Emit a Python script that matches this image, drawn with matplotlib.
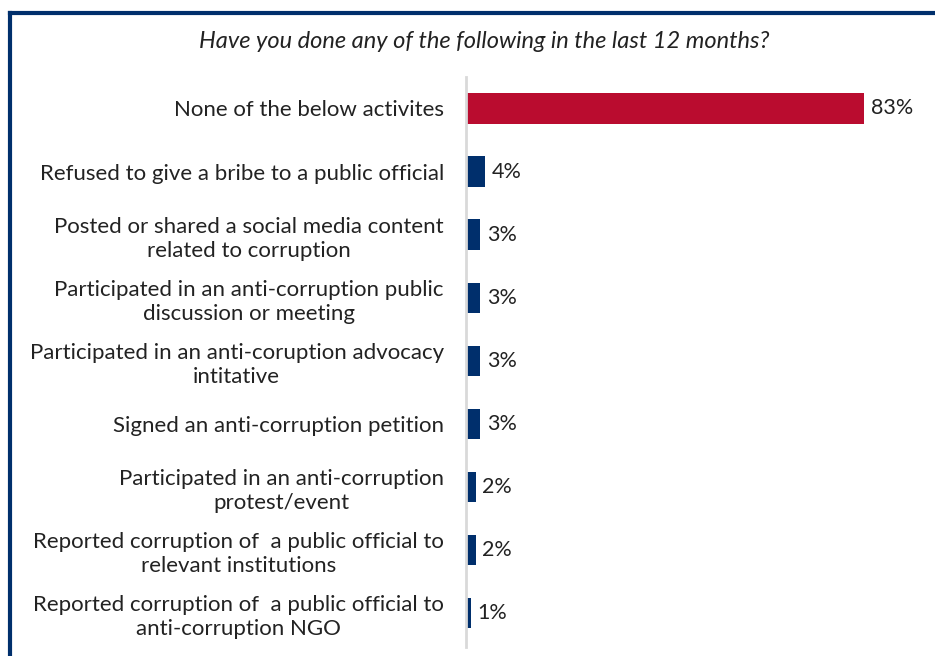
import numpy as np
import matplotlib.pyplot as plt
from matplotlib.lines import Line2D

plt.rcParams["font.family"] = ["Lato", "DejaVu Sans"]

# Survey answers, top to bottom
activities = [
    "None of the below activites",
    "Refused to give a bribe to a public official",
    "Posted or shared a social media content\nrelated to corruption",
    "Participated in an anti-corruption public\ndiscussion or meeting",
    "Participated in an anti-coruption advocacy\nintitative",
    "Signed an anti-corruption petition",
    "Participated in an anti-corruption\nprotest/event",
    "Reported corruption of  a public official to\nrelevant institutions",
    "Reported corruption of  a public official to\nanti-corruption NGO",
]
shares = [83, 4, 3, 3, 3, 3, 2, 2, 1]

red = "#BA0C2F"
navy = "#002F6C"

fig = plt.figure(figsize=(9.35, 6.56), dpi=100)
ax = fig.add_axes([0.4984, 0.0137, 0.4877, 0.869])

y = np.arange(len(activities))
colors = [red] + [navy] * (len(activities) - 1)
ax.barh(y, shares, height=0.48, color=colors)

for yi, v in zip(y, shares):
    ax.text(v + 1.3, yi, "{}%".format(v), va="center", ha="left",
            fontsize=15.5, color="#222222")

ax.set_xlim(0, 95)
ax.set_ylim(len(activities) - 0.46, -0.5)
ax.set_yticks(y)
ax.set_yticklabels(activities, fontsize=16, color="#222222",
                   multialignment="center", linespacing=1.25)
ax.tick_params(axis="y", length=0, pad=16)
ax.set_xticks([])

for s in ["top", "right", "bottom"]:
    ax.spines[s].set_visible(False)
ax.spines["left"].set_color("#D9D9D9")
ax.spines["left"].set_linewidth(2)

fig.text(0.518, 0.936, "Have you done any of the following in the last 12 months?",
         ha="center", va="center", fontsize=17, style="italic", color="#222222")

# frame lines along the top and left edges
fig.add_artist(Line2D([10 / 935, 1.0], [1 - 13 / 656] * 2, color=navy, lw=3,
                      transform=fig.transFigure))
fig.add_artist(Line2D([10 / 935] * 2, [0, 1 - 13 / 656], color=navy, lw=3,
                      transform=fig.transFigure))

fig.savefig("out.png", dpi=100)
